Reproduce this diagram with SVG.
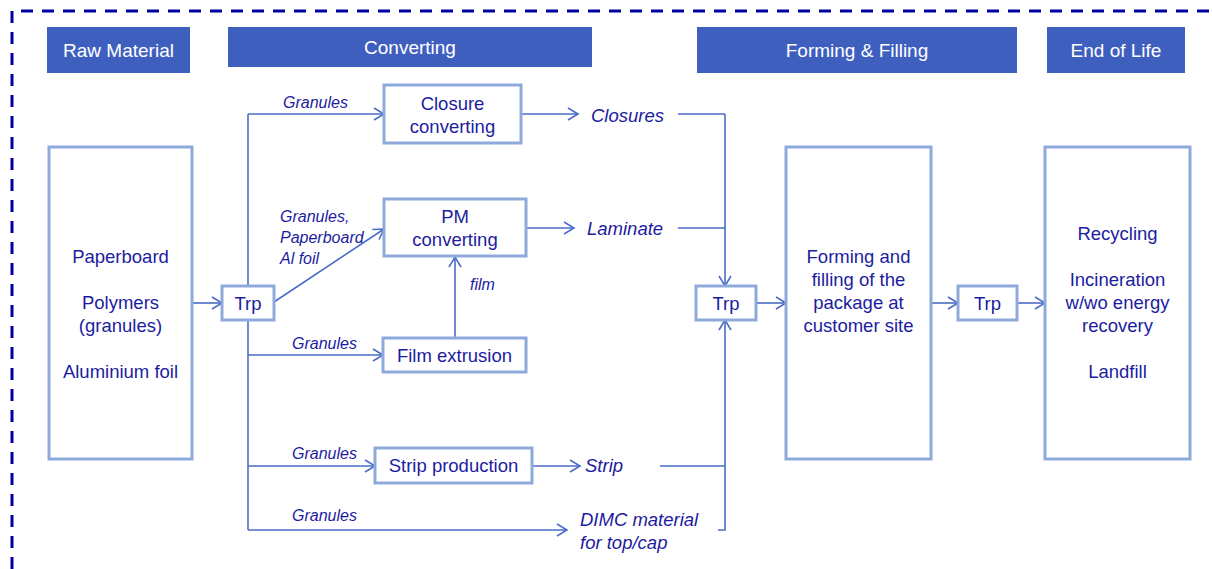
<svg xmlns="http://www.w3.org/2000/svg" width="1212" height="569" viewBox="0 0 1212 569">
<defs>
<marker id="arr" markerUnits="userSpaceOnUse" markerWidth="14" markerHeight="14" refX="11" refY="7" orient="auto">
<path d="M1,1 L11,7 L1,13" fill="none" stroke="#4a6cc8" stroke-width="1.6"/>
</marker>
</defs>
<style>
.hdr{fill:#3f5fbf}
.htxt{font-family:"Liberation Sans",Arial,sans-serif;font-size:19px;fill:#ffffff;text-anchor:middle}
.box{fill:#ffffff;stroke:#8eaadb;stroke-width:3}
.t{font-family:"Liberation Sans",Arial,sans-serif;font-size:18.5px;fill:#1c1ca0;text-anchor:middle}
.lbl{font-family:"Liberation Sans",Arial,sans-serif;font-size:16px;font-style:italic;fill:#1c1ca0}
.lblb{font-family:"Liberation Sans",Arial,sans-serif;font-size:18.5px;font-style:italic;fill:#1c1ca0}
.c{fill:none;stroke:#4a6cc8;stroke-width:1.6}
.ca{fill:none;stroke:#4a6cc8;stroke-width:1.6;marker-end:url(#arr)}
</style>
<rect width="1212" height="569" fill="#ffffff"/>
<path d="M12,569 L12,11 L1212,11" fill="none" stroke="#0000a0" stroke-width="3" stroke-dasharray="12 9"/>

<g id="headers">
<rect class="hdr" x="47" y="27" width="143" height="46"/>
<text class="htxt" x="118.5" y="57">Raw Material</text>
<rect class="hdr" x="228" y="27" width="364" height="40"/>
<text class="htxt" x="410" y="54">Converting</text>
<rect class="hdr" x="697" y="27" width="320" height="46"/>
<text class="htxt" x="857" y="57">Forming &amp; Filling</text>
<rect class="hdr" x="1047" y="27" width="138" height="46"/>
<text class="htxt" x="1116" y="57">End of Life</text>
</g>

<g id="connectors">
<path class="ca" d="M192,303 L222,303"/>
<path class="c" d="M248,286 L248,114"/>
<path class="ca" d="M248,114 L384,114"/>
<path class="ca" d="M274,302 L384,229"/>
<path class="c" d="M248,320 L248,530"/>
<path class="ca" d="M248,355 L383,355"/>
<path class="ca" d="M248,466 L375,466"/>
<path class="ca" d="M248,530 L567,530"/>
<path class="ca" d="M455,338 L455,257"/>
<path class="ca" d="M521,114 L578,114"/>
<path class="ca" d="M526,228 L574,228"/>
<path class="ca" d="M532,466 L580,466"/>
<path class="c" d="M678,114 L725,114"/>
<path class="c" d="M678,228 L725,228"/>
<path class="ca" d="M725,114 L725,286"/>
<path class="c" d="M660,466 L725,466"/>
<path class="c" d="M718,530 L725,530 L725,466"/>
<path class="ca" d="M725,466 L725,320"/>
<path class="ca" d="M756,303 L786,303"/>
<path class="ca" d="M931,303 L958,303"/>
<path class="ca" d="M1017,303 L1045,303"/>
<text class="lbl" x="283" y="108">Granules</text>
<text class="lbl" x="280" y="222">Granules,</text>
<text class="lbl" x="280" y="243">Paperboard</text>
<text class="lbl" x="280" y="264">Al foil</text>
<text class="lbl" x="470" y="290">film</text>
<text class="lbl" x="292" y="349">Granules</text>
<text class="lbl" x="292" y="459">Granules</text>
<text class="lbl" x="292" y="521">Granules</text>
<text class="lblb" x="591" y="122">Closures</text>
<text class="lblb" x="587" y="235">Laminate</text>
<text class="lblb" x="585" y="472">Strip</text>
<text class="lblb" x="580" y="526">DIMC material</text>
<text class="lblb" x="580" y="549">for top/cap</text>
</g>

<g id="raw">
<rect class="box" x="49" y="147" width="143" height="312"/>
<text class="t" x="120.5" y="263">Paperboard</text>
<text class="t" x="120.5" y="309">Polymers</text>
<text class="t" x="120.5" y="332">(granules)</text>
<text class="t" x="120.5" y="378">Aluminium foil</text>
</g>
<g id="trp1">
<rect class="box" x="222" y="286" width="52" height="34"/>
<text class="t" x="248" y="310">Trp</text>
</g>
<g id="closure">
<rect class="box" x="384" y="85" width="137" height="58"/>
<text class="t" x="452.5" y="110">Closure</text>
<text class="t" x="452.5" y="133">converting</text>
</g>
<g id="pm">
<rect class="box" x="384" y="199" width="142" height="57"/>
<text class="t" x="455" y="223">PM</text>
<text class="t" x="455" y="246">converting</text>
</g>
<g id="film">
<rect class="box" x="383" y="338" width="143" height="34"/>
<text class="t" x="454.5" y="362">Film extrusion</text>
</g>
<g id="strip">
<rect class="box" x="375" y="448" width="157" height="35"/>
<text class="t" x="453.5" y="472">Strip production</text>
</g>
<g id="trp2">
<rect class="box" x="696" y="286" width="60" height="34"/>
<text class="t" x="726" y="310">Trp</text>
</g>
<g id="forming">
<rect class="box" x="786" y="147" width="145" height="312"/>
<text class="t" x="858.5" y="263">Forming and</text>
<text class="t" x="858.5" y="286">filling of the</text>
<text class="t" x="858.5" y="309">package at</text>
<text class="t" x="858.5" y="332">customer site</text>
</g>
<g id="trp3">
<rect class="box" x="958" y="286" width="59" height="34"/>
<text class="t" x="987.5" y="310">Trp</text>
</g>
<g id="eol">
<rect class="box" x="1045" y="147" width="145" height="312"/>
<text class="t" x="1117.5" y="240">Recycling</text>
<text class="t" x="1117.5" y="286">Incineration</text>
<text class="t" x="1117.5" y="309">w/wo energy</text>
<text class="t" x="1117.5" y="332">recovery</text>
<text class="t" x="1117.5" y="378">Landfill</text>
</g>
</svg>
